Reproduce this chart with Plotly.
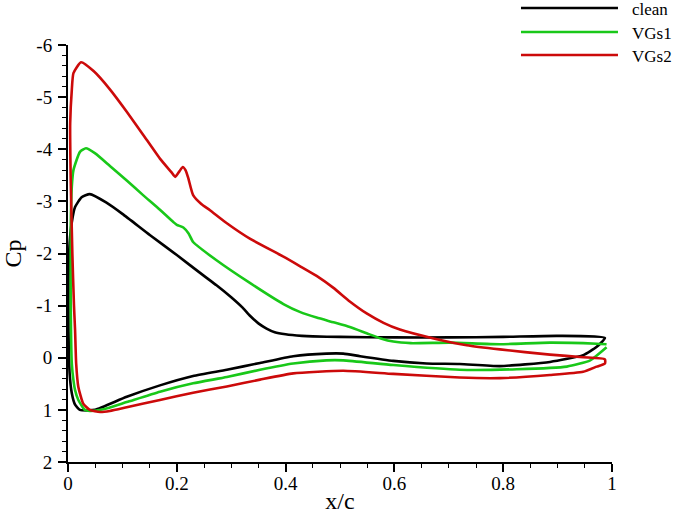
import plotly.graph_objects as go

# ---- data (x/c, Cp) as closed loops: upper surface TE->LE, then lower surface LE->TE ----
clean_x = [0.987, 0.9, 0.8, 0.7, 0.6, 0.5, 0.45, 0.43, 0.4, 0.38, 0.365, 0.35, 0.335, 0.32, 0.3,
           0.273, 0.25, 0.2, 0.151, 0.1, 0.07, 0.04, 0.025, 0.013, 0.007, 0.003, 0.001,
           0.001, 0.003, 0.007, 0.013, 0.022, 0.035, 0.05, 0.108, 0.169, 0.23, 0.292, 0.353,
           0.414, 0.475, 0.506, 0.537, 0.598, 0.659, 0.72, 0.794, 0.886, 0.947, 0.972, 0.987]
clean_cp = [-0.38, -0.42, -0.40, -0.39, -0.39, -0.40, -0.41, -0.42, -0.45, -0.49, -0.56, -0.66,
            -0.80, -0.97, -1.16, -1.39, -1.57, -1.97, -2.35, -2.76, -2.98, -3.14, -3.08,
            -2.89, -2.6, -2.2, -1.5, -0.5, 0.3, 0.68, 0.9, 1.0, 1.01, 1.0, 0.75, 0.53, 0.35,
            0.23, 0.10, -0.03, -0.08, -0.08, -0.03, 0.06, 0.11, 0.12, 0.16, 0.08, -0.05, -0.21,
            -0.38]

vgs1_x = [0.99, 0.972, 0.886, 0.794, 0.702, 0.63, 0.598, 0.575, 0.549, 0.518, 0.488, 0.457,
          0.426, 0.396, 0.335, 0.273, 0.23, 0.222, 0.212, 0.2, 0.194, 0.169, 0.138, 0.108,
          0.077, 0.05, 0.033, 0.022, 0.01, 0.007, 0.005, 0.005, 0.007, 0.01, 0.013, 0.019,
          0.031, 0.040, 0.065, 0.108, 0.169, 0.23, 0.292, 0.353, 0.414, 0.475, 0.506, 0.598,
          0.72, 0.825, 0.917, 0.96, 0.99]
vgs1_cp = [-0.26, -0.27, -0.29, -0.26, -0.29, -0.28, -0.31, -0.37, -0.47, -0.59, -0.68, -0.77,
           -0.88, -1.03, -1.43, -1.87, -2.22, -2.38, -2.50, -2.55, -2.60, -2.84, -3.12, -3.40,
           -3.68, -3.92, -4.02, -3.95, -3.6, -3.28, -2.5, -1.0, 0.11, 0.43, 0.62, 0.81,
           1.0, 1.02, 0.99, 0.85, 0.65, 0.49, 0.37, 0.23, 0.11, 0.05, 0.05, 0.14,
           0.23, 0.22, 0.17, 0.05, -0.20]

vgs2_x = [0.987, 0.947, 0.886, 0.794, 0.733, 0.672, 0.61, 0.58, 0.549, 0.518, 0.488, 0.457,
          0.426, 0.396, 0.335, 0.292, 0.261, 0.245, 0.23, 0.221, 0.216, 0.211, 0.205, 0.197,
          0.19, 0.169, 0.138, 0.108, 0.077, 0.047, 0.024, 0.01, 0.007, 0.004, 0.005,
          0.008, 0.011, 0.013, 0.015, 0.019, 0.028, 0.040, 0.059, 0.077, 0.108, 0.169, 0.23,
          0.292, 0.353, 0.414, 0.506, 0.598, 0.72, 0.794, 0.886, 0.947, 0.972, 0.987, 0.987]
vgs2_cp = [0.03, -0.01, -0.06, -0.16, -0.24, -0.37, -0.54, -0.67, -0.85, -1.08, -1.34, -1.57,
           -1.76, -1.94, -2.28, -2.58, -2.83, -2.95, -3.12, -3.45, -3.60, -3.66, -3.58, -3.47,
           -3.56, -3.82, -4.28, -4.72, -5.15, -5.50, -5.67, -5.46, -5.14, -4.5, -3.4,
           -2.0, -1.0, -0.53, 0.11, 0.56, 0.88, 1.0, 1.04, 1.02, 0.95, 0.81, 0.67,
           0.55, 0.42, 0.30, 0.25, 0.31, 0.38, 0.39, 0.33, 0.27, 0.17, 0.11, 0.03]

series_names = ["clean", "VGs1", "VGs2"]
series_x = [clean_x, vgs1_x, vgs2_x]
series_cp = [clean_cp, vgs1_cp, vgs2_cp]
colors = ["#000000", "#19c819", "#cc0a0a"]

x_ticks = [0, 0.2, 0.4, 0.6, 0.8, 1]
x_ticklabels = ["0", "0.2", "0.4", "0.6", "0.8", "1"]
y_ticks = [-6, -5, -4, -3, -2, -1, 0, 1, 2]
y_ticklabels = ["-6", "-5", "-4", "-3", "-2", "-1", "0", "1", "2"]

FONT = "Liberation Serif"

fig = go.Figure()
for name, xs, ys, c in zip(series_names, series_x, series_cp, colors):
    fig.add_trace(go.Scatter(x=xs, y=ys, mode="lines", name=name, showlegend=False,
                             line=dict(color=c, width=2.6, shape="spline", smoothing=0.5)))

# legend drawn in paper coordinates (top-right, outside the plot area)
leg_y = [1.0887, 1.0312, 0.9760]
for name, c, ly in zip(series_names, colors, leg_y):
    fig.add_shape(type="line", xref="paper", yref="paper", x0=0.8327, x1=1.011, y0=ly, y1=ly,
                  line=dict(color=c, width=2.6))
    fig.add_annotation(xref="paper", yref="paper", x=1.033, y=ly - 0.004, text=name,
                       showarrow=False, xanchor="left", yanchor="middle",
                       font=dict(family=FONT, size=17, color="black"))

fig.update_layout(
    width=685, height=514,
    margin=dict(l=68, r=73, t=45, b=52, autoexpand=False),
    plot_bgcolor="white", paper_bgcolor="white",
    font=dict(family=FONT, color="black", size=19),
    showlegend=False,
    xaxis=dict(range=[0, 1], tickvals=x_ticks, ticktext=x_ticklabels,
               showline=True, linecolor="black", linewidth=2, mirror=False,
               ticks="outside", ticklen=8, tickwidth=2, tickcolor="black",
               showgrid=False, zeroline=False, automargin=False, ticklabelstandoff=-5,
               minor=dict(dtick=0.05, tick0=0, ticks="outside", ticklen=4, tickwidth=1, tickcolor="black", showgrid=False),
               title=dict(text="x/c", font=dict(family=FONT, size=24), standoff=0),
               tickfont=dict(family=FONT, size=19)),
    yaxis=dict(range=[2, -6], tickvals=y_ticks, ticktext=y_ticklabels,
               showline=True, linecolor="black", linewidth=2, mirror=False,
               ticks="outside", ticklen=8, tickwidth=2, tickcolor="black",
               showgrid=False, zeroline=False, automargin=False, ticklabelstandoff=2,
               minor=dict(dtick=0.2, tick0=0, ticks="outside", ticklen=4, tickwidth=1, tickcolor="black", showgrid=False),
               title=dict(text="Cp", font=dict(family=FONT, size=24), standoff=14),
               tickfont=dict(family=FONT, size=19)),
)

fig.write_html("out.html", config={"displayModeBar": False},
               post_script="document.body.style.margin='0px';")
